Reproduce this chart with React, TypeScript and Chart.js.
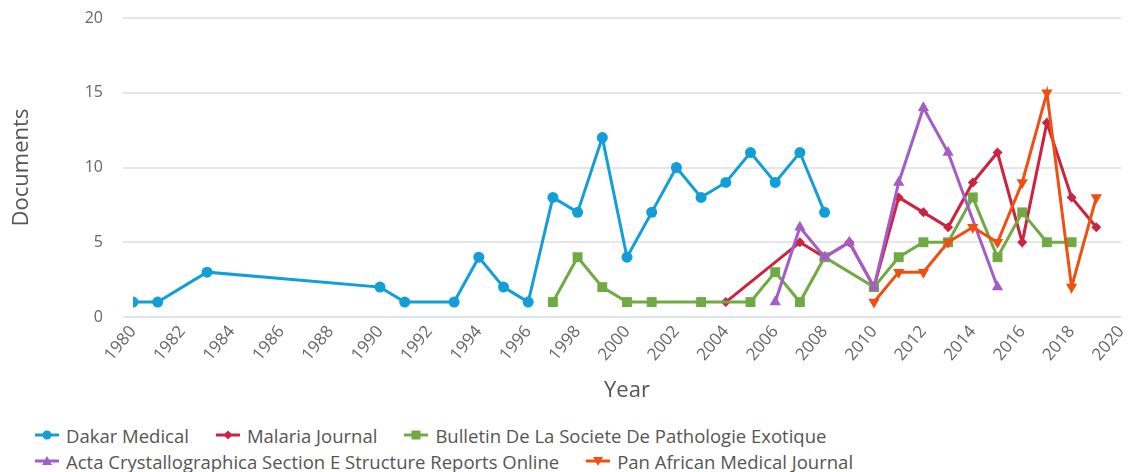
import React, { useEffect, useRef } from "react";
import { Chart, registerables } from "chart.js";

Chart.register(...registerables);

// ---- Data ----
const dakarYears = [1980, 1981, 1983, 1990, 1991, 1993, 1994, 1995, 1996, 1997, 1998, 1999, 2000, 2001, 2002, 2003, 2004, 2005, 2006, 2007, 2008];
const dakarValues = [1, 1, 3, 2, 1, 1, 4, 2, 1, 8, 7, 12, 4, 7, 10, 8, 9, 11, 9, 11, 7];

const malariaYears = [2004, 2007, 2008, 2009, 2010, 2011, 2012, 2013, 2014, 2015, 2016, 2017, 2018, 2019];
const malariaValues = [1, 5, 4, 5, 2, 8, 7, 6, 9, 11, 5, 13, 8, 6];

const bulletinYears = [1997, 1998, 1999, 2000, 2001, 2003, 2005, 2006, 2007, 2008, 2010, 2011, 2012, 2013, 2014, 2015, 2016, 2017, 2018];
const bulletinValues = [1, 4, 2, 1, 1, 1, 1, 3, 1, 4, 2, 4, 5, 5, 8, 4, 7, 5, 5];

const actaYears = [2006, 2007, 2008, 2009, 2010, 2011, 2012, 2013, 2015];
const actaValues = [1, 6, 4, 5, 2, 9, 14, 11, 2];

const panAfricanYears = [2010, 2011, 2012, 2013, 2014, 2015, 2016, 2017, 2018, 2019];
const panAfricanValues = [1, 3, 3, 5, 6, 5, 9, 15, 2, 8];

const seriesNames = [
  "Dakar Medical",
  "Malaria Journal",
  "Bulletin De La Societe De Pathologie Exotique",
  "Acta Crystallographica Section E Structure Reports Online",
  "Pan African Medical Journal",
];
const seriesColors = ["#129fd8", "#cb2340", "#6faa44", "#a45cc6", "#ef5012"];
const seriesMarkers = ["circle", "diamond", "square", "triangle", "triangleDown"];

const xMin = 1980;
const xMax = 2020;
const xStep = 2;
const yMin = 0;
const yMax = 20;
const yStep = 5;

const FONT = "'Open Sans', 'Noto Sans', sans-serif";

function pts(xs: number[], ys: number[]) {
  return xs.map((x, i) => ({ x, y: ys[i] }));
}

const seriesData = [
  pts(dakarYears, dakarValues),
  pts(malariaYears, malariaValues),
  pts(bulletinYears, bulletinValues),
  pts(actaYears, actaValues),
  pts(panAfricanYears, panAfricanValues),
];

function markerProps(m: string) {
  switch (m) {
    case "circle":
      return { pointStyle: "circle", pointRadius: 5.5, pointRotation: 0 };
    case "diamond":
      return { pointStyle: "rectRot", pointRadius: 5, pointRotation: 0 };
    case "square":
      return { pointStyle: "rect", pointRadius: 7, pointRotation: 0 };
    case "triangle":
      return { pointStyle: "triangle", pointRadius: 6.5, pointRotation: 0 };
    default:
      return { pointStyle: "triangle", pointRadius: 6.5, pointRotation: 180 };
  }
}

function LegendSymbol({ color, marker }: { color: string; marker: string }) {
  let shape: React.ReactNode = null;
  if (marker === "circle") shape = <circle cx={12} cy={7} r={4.5} fill={color} />;
  else if (marker === "diamond") shape = <polygon points="12,2.5 16.5,7 12,11.5 7.5,7" fill={color} />;
  else if (marker === "square") shape = <rect x={7.5} y={2.5} width={9} height={9} fill={color} />;
  else if (marker === "triangle") shape = <polygon points="12,2 17,11 7,11" fill={color} />;
  else shape = <polygon points="7,3 17,3 12,12" fill={color} />;
  return (
    <svg width={24} height={14} style={{ display: "block" }}>
      <line x1={0} y1={7} x2={24} y2={7} stroke={color} strokeWidth={3} />
      {shape}
    </svg>
  );
}

export default function App() {
  const canvasRef = useRef<HTMLCanvasElement | null>(null);

  useEffect(() => {
    if (!canvasRef.current) return;
    const chart = new Chart(canvasRef.current, {
      type: "line",
      data: {
        datasets: seriesNames.map((name, i) => ({
          label: name,
          data: seriesData[i],
          borderColor: seriesColors[i],
          backgroundColor: seriesColors[i],
          pointBackgroundColor: seriesColors[i],
          pointBorderColor: seriesColors[i],
          pointBorderWidth: 0,
          borderWidth: 3,
          tension: 0,
          fill: false,
          order: seriesNames.length - i,
          ...markerProps(seriesMarkers[i]),
        })) as any,
      },
      options: {
        animation: false,
        responsive: true,
        maintainAspectRatio: false,
        layout: { padding: { top: 18, left: 0, right: 6, bottom: 0 } },
        plugins: {
          legend: { display: false },
          tooltip: { enabled: false },
        },
        scales: {
          x: {
            type: "linear",
            min: xMin,
            max: xMax,
            afterFit: (s: any) => {
              s.height = 88;
              s.paddingLeft = 0;
              s.paddingRight = 0;
            },
            ticks: {
              stepSize: xStep,
              autoSkip: false,
              minRotation: 50,
              maxRotation: 50,
              padding: 5,
              color: "#666",
              font: { family: FONT, size: 17 },
              callback: (v: any) => String(v),
            },
            grid: { display: false, drawTicks: false },
            border: { display: false },
            title: {
              display: true,
              text: "Year",
              color: "#555",
              font: { family: FONT, size: 22 },
              padding: { top: 4, bottom: 1 },
            },
          },
          y: {
            min: yMin,
            max: yMax,
            afterFit: (s: any) => {
              s.width = 133;
              s.paddingTop = 0;
              s.paddingBottom = 0;
            },
            ticks: {
              stepSize: yStep,
              padding: 20,
              color: "#666",
              font: { family: FONT, size: 16 },
              callback: (v: any) => String(v),
            },
            grid: {
              color: (ctx: any) => (ctx.tick && ctx.tick.value === 0 ? "#dce3f3" : "#e6e6e6"),
              lineWidth: 2,
              drawTicks: true,
              tickLength: 10,
            },
            border: { display: false },
            title: {
              display: true,
              text: "Documents",
              color: "#555",
              font: { family: FONT, size: 22 },
              padding: { top: 9, bottom: 4 },
            },
          },
        },
      },
    });
    return () => chart.destroy();
  }, []);

  return (
    <div style={{ position: "absolute", left: 0, top: 0, width: 1128, height: 472, background: "#fff" }}>
      <div style={{ position: "absolute", left: 0, top: 0, width: 1128, height: 405 }}>
        <canvas ref={canvasRef} />
      </div>
      <div
        style={{
          position: "absolute",
          left: 35,
          top: 422,
          width: 1080,
          display: "flex",
          flexWrap: "wrap",
          fontFamily: FONT,
          fontSize: 18.5,
          color: "#555",
        }}
      >
        {seriesNames.map((name, i) => (
          <div key={name} style={{ display: "flex", alignItems: "center", height: 26, marginRight: 27 }}>
            <LegendSymbol color={seriesColors[i]} marker={seriesMarkers[i]} />
            <span style={{ marginLeft: 7, whiteSpace: "nowrap" }}>{name}</span>
          </div>
        ))}
      </div>
    </div>
  );
}
